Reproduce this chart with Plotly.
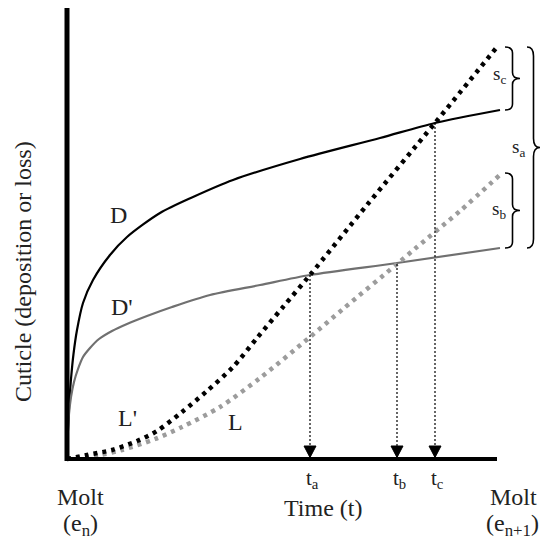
import numpy as np
import plotly.graph_objects as go

# ---- data (time on x, cuticle amount on y; arbitrary units) ----
D_X = [0, 1, 2.5, 4, 6.5, 10, 16, 26, 43, 60, 93, 126, 166, 233, 313, 368, 433]
D_Y = [0, 30, 60, 80, 105, 129, 156, 179, 204, 222, 246, 262, 279, 300, 321, 336, 349]

DP_X = [0, 1, 2, 4, 7, 11, 16, 23, 32, 45, 60, 80, 105, 143, 193, 243, 330, 433]
DP_Y = [0, 30, 45, 62, 77, 90, 102, 111, 120, 128, 135, 143, 152, 164, 174, 184, 196, 211]

LP_X = [0, 20, 45, 70, 90, 115, 140, 166, 190, 216, 243, 300, 368, 430]
LP_Y = [0, 4, 9, 18, 28, 47, 68, 92, 121, 152, 184, 254, 336, 412]

L_X = [0, 33, 55, 88, 115, 153, 193, 243, 276, 330, 350, 393, 435]
L_Y = [0, 4, 9, 20, 32, 52, 81, 122, 150, 195, 212, 248, 286]

T_LABELS = ["t<sub>a</sub>", "t<sub>b</sub>", "t<sub>c</sub>"]
T_VALUES = [243, 330, 368]
T_CURVES = ["DP", "L", "D"]   # curve whose crossing defines each t

X_END = 430   # end of the time axis (next molt)
Y_TOP = 453   # top of the cuticle axis

FONT = "Liberation Serif, Times New Roman, serif"
BLACK = "#000000"
DGRAY = "#707070"
LGRAY = "#9c9c9c"

curves = {"D": (D_X, D_Y), "DP": (DP_X, DP_Y), "L": (L_X, L_Y), "LP": (LP_X, LP_Y)}

fig = go.Figure()

# axes
fig.add_shape(type="line", x0=0, x1=0, y0=-2, y1=Y_TOP, line=dict(color=BLACK, width=5))
fig.add_shape(type="line", x0=-2, x1=X_END, y0=0, y1=0, line=dict(color=BLACK, width=4))

# curves
fig.add_trace(go.Scatter(x=D_X, y=D_Y, mode="lines", line=dict(color=BLACK, width=2.2, shape="spline", smoothing=0.8)))
fig.add_trace(go.Scatter(x=DP_X, y=DP_Y, mode="lines", line=dict(color=DGRAY, width=2.2, shape="spline", smoothing=0.8)))
fig.add_trace(go.Scatter(x=L_X, y=L_Y, mode="lines", line=dict(color=LGRAY, width=4.5, dash="4px,5px", shape="spline", smoothing=0.8)))
fig.add_trace(go.Scatter(x=LP_X, y=LP_Y, mode="lines", line=dict(color=BLACK, width=4.5, dash="4px,5px", shape="spline", smoothing=0.8)))

# vertical drop lines and arrowheads
ARROW_HALF_W = 6
ARROW_TOP = 13
ARROW_TIP = 1.5
tri_x, tri_y = [], []
for t, c in zip(T_VALUES, T_CURVES):
    cx, cy = curves[c]
    top = float(np.interp(t, cx, cy))
    fig.add_trace(go.Scatter(x=[t, t], y=[top, ARROW_TOP], mode="lines",
                             line=dict(color=BLACK, width=1.2, dash="2px,2px")))
    tri_x += [t - ARROW_HALF_W, t + ARROW_HALF_W, t, t - ARROW_HALF_W, None]
    tri_y += [ARROW_TOP, ARROW_TOP, ARROW_TIP, ARROW_TOP, None]
fig.add_trace(go.Scatter(x=tri_x, y=tri_y, mode="lines", fill="toself", fillcolor=BLACK,
                         line=dict(color=BLACK, width=1)))

# braces
def brace(x0, w, y_lo, y_hi, r=6):
    xm = x0 + w / 2
    ym = (y_lo + y_hi) / 2
    return (f"M {x0},{y_hi} Q {xm},{y_hi} {xm},{y_hi - r} L {xm},{ym + r} "
            f"Q {xm},{ym} {x0 + w},{ym} Q {xm},{ym} {xm},{ym - r} "
            f"L {xm},{y_lo + r} Q {xm},{y_lo} {x0},{y_lo}")

fig.add_shape(type="path", path=brace(438, 15, D_Y[-1], LP_Y[-1]), line=dict(color=BLACK, width=1.6))
fig.add_shape(type="path", path=brace(438, 15, DP_Y[-1], L_Y[-1]), line=dict(color=BLACK, width=1.6))
fig.add_shape(type="path", path=brace(460, 13, DP_Y[-1], LP_Y[-1], r=9), line=dict(color=BLACK, width=1.6))

def txt(x, y, s, size, color="#222222", **kw):
    fig.add_annotation(x=x, y=y, text=s, showarrow=False, xref="x", yref="y",
                       font=dict(family=FONT, size=size, color=color), **kw)

txt(51, 244, "D", 24)
txt(55, 152, "D'", 24)
txt(60, 41, "L'", 24)
txt(168, 37, "L", 24)
for t, lab in zip(T_VALUES, T_LABELS):
    txt(t + 2, -20, lab, 21)
txt(256, -49, "Time (t)", 24)
txt(13, -38, "Molt", 24)
txt(13, -66, "(e<sub>n</sub>)", 24)
txt(446, -38, "Molt", 24)
txt(445, -66, "(e<sub>n+1</sub>)", 24)
txt(-44, 187, "Cuticle (deposition or loss)", 24, textangle=-90)
txt(432, 384, "s<sub>c</sub>", 19)
txt(432, 249, "s<sub>b</sub>", 19)
txt(451, 311, "s<sub>a</sub>", 19)

# the page body has an 8px margin, so the figure is 8px smaller than the window
fig.update_layout(
    width=540, height=531,
    margin=dict(l=0, r=0, t=0, b=0),
    paper_bgcolor="white", plot_bgcolor="white",
    showlegend=False,
    xaxis=dict(range=[-59, 481], visible=False, fixedrange=True),
    yaxis=dict(range=[-80, 451], visible=False, fixedrange=True),
)

fig.write_html("out.html")
